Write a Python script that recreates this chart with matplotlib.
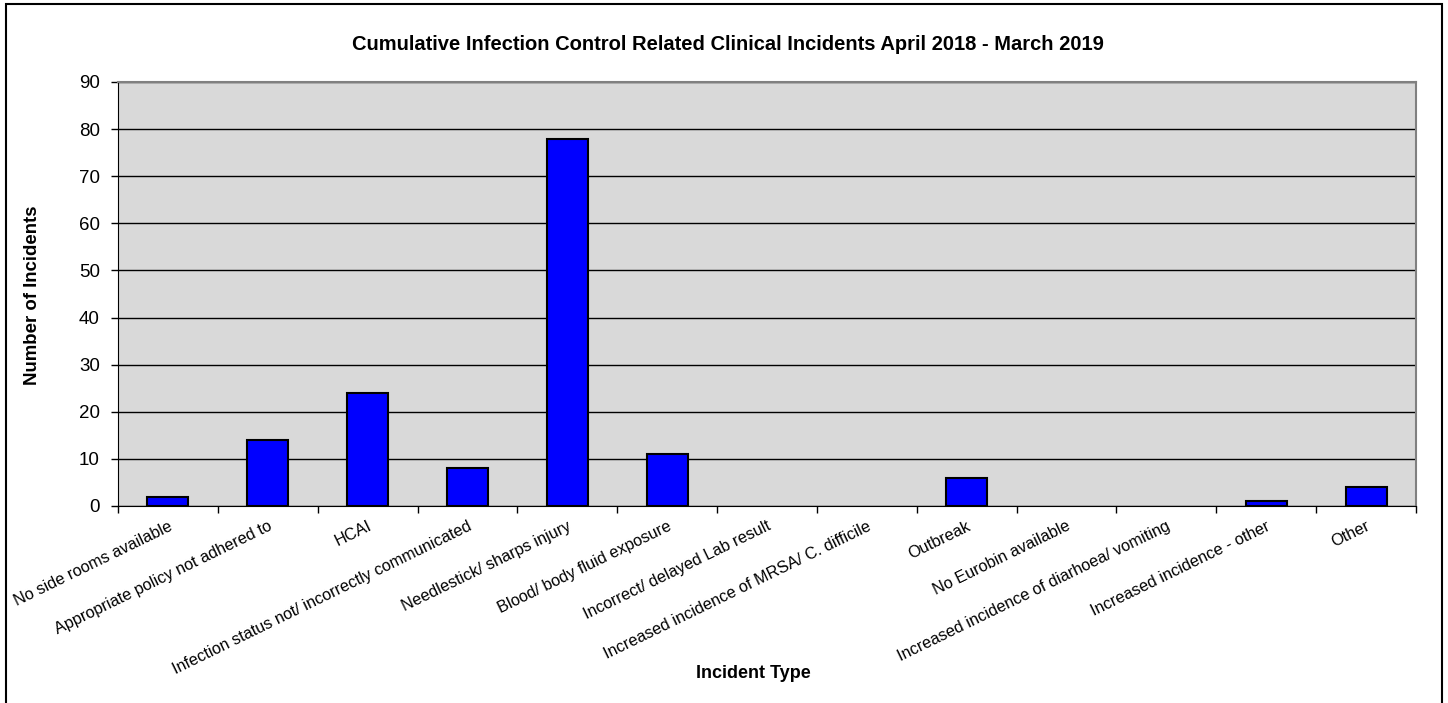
import matplotlib
matplotlib.use("Agg")
import numpy as np
from matplotlib import pyplot as plt
from matplotlib.patches import Rectangle

plt.rcParams['font.family'] = ['Liberation Sans', 'DejaVu Sans']

categories = ['No side rooms available', 'Appropriate policy not adhered to', 'HCAI',
              'Infection status not/ incorrectly communicated', 'Needlestick/ sharps injury',
              'Blood/ body fluid exposure', 'Incorrect/ delayed Lab result',
              'Increased incidence of MRSA/ C. difficile', 'Outbreak', 'No Eurobin available',
              'Increased incidence of diarhoea/ vomiting', 'Increased incidence - other', 'Other']
incidents = [2, 14, 24, 8, 78, 11, 0, 0, 6, 0, 0, 1, 4]
yticks = [0, 10, 20, 30, 40, 50, 60, 70, 80, 90]

fig = plt.figure(figsize=(14.48, 7.03), dpi=100)
ax = fig.add_axes([118 / 1448, 1 - 506 / 703, (1416 - 118) / 1448, (506 - 82) / 703])
ax.set_facecolor('#D9D9D9')

x = np.arange(len(categories))
bars = ax.bar(x, incidents, width=0.41, color='#0000FF', edgecolor='black', linewidth=1.5, zorder=3)
for b, v in zip(bars, incidents):
    if v == 0:
        b.set_visible(False)

ax.set_xlim(-0.5, len(categories) - 0.5)
ax.set_ylim(0, 90)
ax.set_yticks(yticks)
ax.yaxis.grid(True, color='black', linewidth=1, zorder=0)
ax.tick_params(axis='y', direction='out', length=5, width=1, labelsize=13.5, pad=8)

# ticks at category boundaries, labels at centres
ax.set_xticks(np.arange(len(categories) + 1) - 0.5)
ax.set_xticklabels([])
ax.tick_params(axis='x', direction='out', length=5, width=1)
for i, lab in enumerate(categories):
    ax.annotate(lab, xy=(i, 0), xycoords=('data', 'axes fraction'), xytext=(0, -9),
                textcoords='offset points', rotation=26, rotation_mode='anchor',
                ha='right', va='top', fontsize=11.7)

ax.spines['left'].set_color('black')
ax.spines['bottom'].set_color('black')
ax.spines['top'].set_color('#808080')
ax.spines['right'].set_color('#808080')
ax.spines['top'].set_linewidth(1.5)
ax.spines['right'].set_linewidth(1.5)

fig.text(728 / 1448, 1 - 45 / 703, 'Cumulative Infection Control Related Clinical Incidents April 2018 - March 2019',
         ha='center', va='center', fontsize=14.5, fontweight='bold')
fig.text(33 / 1448, 1 - 295 / 703, 'Number of Incidents', rotation=90, ha='center', va='center',
         fontsize=13.4, fontweight='bold')
fig.text(753 / 1448, 1 - 673 / 703, 'Incident Type', ha='center', va='center',
         fontsize=13, fontweight='bold')

# outer chart frame
fig.patches.append(Rectangle((6 / 1448, -0.05), (1442 - 6) / 1448, 1.05 - 4 / 703,
                             transform=fig.transFigure, fill=False, edgecolor='black', linewidth=1.5))

fig.savefig('out.png', dpi=100)
